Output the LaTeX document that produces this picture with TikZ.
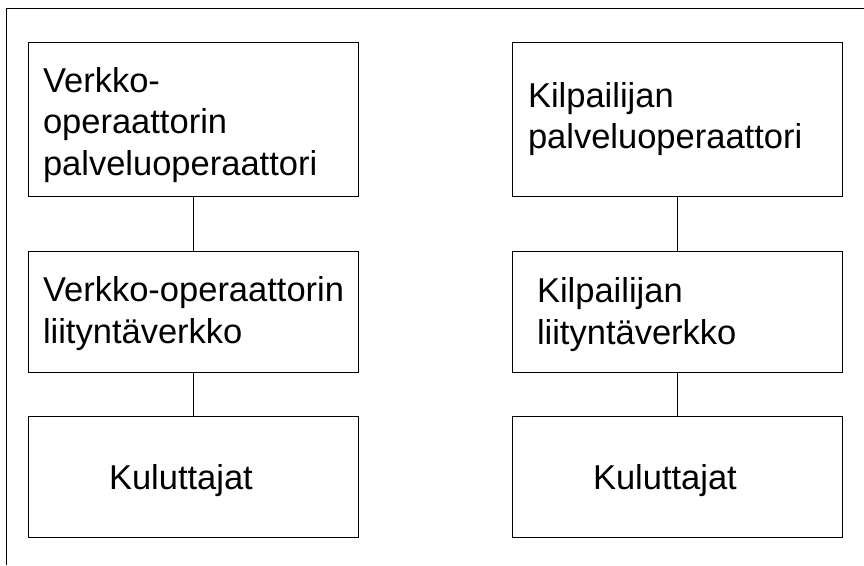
\documentclass[tikz,border=0pt]{standalone}
\usepackage{fontspec}
\setmainfont{Liberation Sans}
\usetikzlibrary{positioning}

\begin{document}
\begin{tikzpicture}[x=1pt, y=-1pt,
    box/.style={rectangle, draw, line width=1pt, minimum width=330pt, inner sep=0pt, align=left,
        font=\fontsize{34.5}{41.5}\selectfont},
    textdrop/.style={execute at begin node={\rule{0pt}{#1}}},
    link/.style={line width=0.8pt}]
    \useasboundingbox (0,0) rectangle (864,565);
    \draw[line width=0.8pt] (6,565) -- (6,8) -- (864,8);

    \node[box, minimum height=154pt, text width=300pt, textdrop=36.7pt] (vpalv) at (193,119) {Verkko-\\operaattorin\\palveluoperaattori};
    \node[box, minimum height=121pt, text width=300pt, textdrop=28.7pt] (vliit) at (193,311.5) {\mbox{Verkko-operaattorin}\\liityntäverkko};
    \node[box, minimum height=121pt, text width=168pt, textdrop=33.9pt] (vkul) at (193,476.5) {Kuluttajat};

    \node[box, minimum height=154pt, text width=299pt] (kpalv) at (677.5,119) {Kilpailijan\\palveluoperaattori};
    \node[box, minimum height=121pt, text width=281pt, textdrop=30.7pt] (kliit) at (677.5,311.5) {Kilpailijan\\liityntäverkko};
    \node[box, minimum height=121pt, text width=169pt, textdrop=33.9pt] (kkul) at (677.5,476.5) {Kuluttajat};

    \draw[link] (vpalv) -- (vliit);
    \draw[link] (vliit) -- (vkul);
    \draw[link] (kpalv) -- (kliit);
    \draw[link] (kliit) -- (kkul);
\end{tikzpicture}
\end{document}
